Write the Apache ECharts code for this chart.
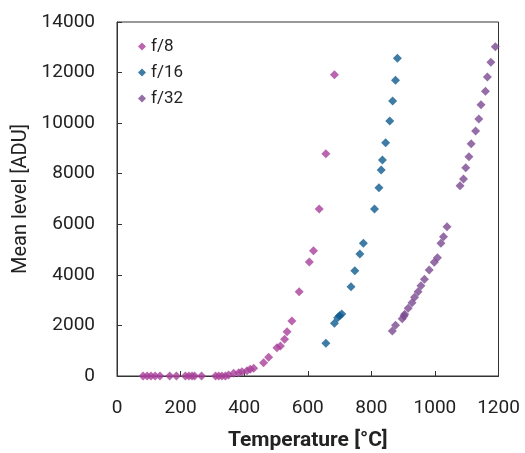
<!DOCTYPE html>
<html><head><meta charset="utf-8">
<script src="https://cdn.jsdelivr.net/npm/echarts@6/dist/echarts.min.js"></script>
<style>html,body{margin:0;padding:0;background:#fff}#c{width:525px;height:453px}</style>
</head><body><div id="c"></div>
<script>
const seriesNames = ['f/8', 'f/16', 'f/32'];
const f8Temp = [82,95,107,120,135,166,187,215,226,236,244,266,310,320,330,341,351,367,383,393,409,419,430,461,477,503,514,527,535,550,573,605,618,636,657,684];
const f8Level = [0,0,0,0,0,0,0,0,0,0,0,0,0,0,0,0,40,107,130,170,210,265,305,526,740,1120,1187,1450,1753,2175,3334,4508,4955,6605,8791,11916];
const f16Temp = [657,684,694,700,707,736,748,764,775,810,824,831,835,845,858,867,876,882];
const f16Level = [1293,2084,2306,2385,2452,3532,4165,4825,5248,6605,7447,8147,8543,9227,10085,10876,11694,12565];
const f32Temp = [866,876,897,903,905,916,928,936,947,956,967,982,998,1008,1019,1027,1038,1079,1090,1097,1107,1114,1128,1138,1145,1159,1165,1176,1190];
const f32Level = [1780,2005,2266,2373,2440,2677,2899,3112,3334,3571,3824,4192,4496,4679,5248,5509,5905,7526,7791,8238,8673,9187,9689,10164,10730,11259,11825,12406,13023];
const xTicks = [0,200,400,600,800,1000,1200];
const yTicks = [0,2000,4000,6000,8000,10000,12000,14000];
const colors = ['#A8409A', '#0E5A8E', '#7B4A91'];

const zip = (a, b) => a.map((v, i) => [v, b[i]]);
const font = 'Roboto, "DejaVu Sans", sans-serif';
const chart = echarts.init(document.getElementById('c'), null, {renderer: 'canvas'});
chart.setOption({
  animation: false,
  color: colors,
  grid: {left: 117, right: 26.5, top: 22, bottom: 77, show: true, borderColor: '#333', borderWidth: 1,
         backgroundColor: 'transparent', containLabel: false, outerBoundsMode: 'none'},
  legend: {
    left: 133, top: 33, orient: 'vertical', itemGap: 9, itemWidth: 8, itemHeight: 8,
    data: seriesNames.map(n => ({name: n, icon: 'diamond'})),
    textStyle: {fontFamily: font, fontSize: 17, color: '#222'}
  },
  xAxis: {
    type: 'value', min: xTicks[0], max: xTicks[xTicks.length - 1], interval: 200,
    name: 'Temperature [°C]', nameLocation: 'middle', nameGap: 54,
    nameTextStyle: {fontFamily: font, fontSize: 21, fontWeight: 'bold', color: '#222'},
    axisLine: {show: true, lineStyle: {color: '#333'}},
    axisTick: {show: true, inside: true, length: 5, lineStyle: {color: '#333'}},
    axisLabel: {fontFamily: font, fontSize: 19, color: '#222', margin: 23, formatter: v => String(v)},
    splitLine: {show: false}
  },
  yAxis: {
    type: 'value', min: yTicks[0], max: yTicks[yTicks.length - 1], interval: 2000,
    name: 'Mean level [ADU]', nameLocation: 'middle', nameGap: 84,
    nameTextStyle: {fontFamily: font, fontSize: 20, color: '#222'},
    axisLine: {show: true, lineStyle: {color: '#333'}},
    axisTick: {show: true, inside: true, length: 5, lineStyle: {color: '#333'}},
    axisLabel: {fontFamily: font, fontSize: 19, color: '#222', margin: 22, formatter: v => String(v)},
    splitLine: {show: false}
  },
  series: [
    {name: seriesNames[0], type: 'scatter', symbol: 'diamond', symbolSize: 9, data: zip(f8Temp, f8Level)},
    {name: seriesNames[1], type: 'scatter', symbol: 'diamond', symbolSize: 9, data: zip(f16Temp, f16Level)},
    {name: seriesNames[2], type: 'scatter', symbol: 'diamond', symbolSize: 9, data: zip(f32Temp, f32Level)}
  ]
});
</script></body></html>
